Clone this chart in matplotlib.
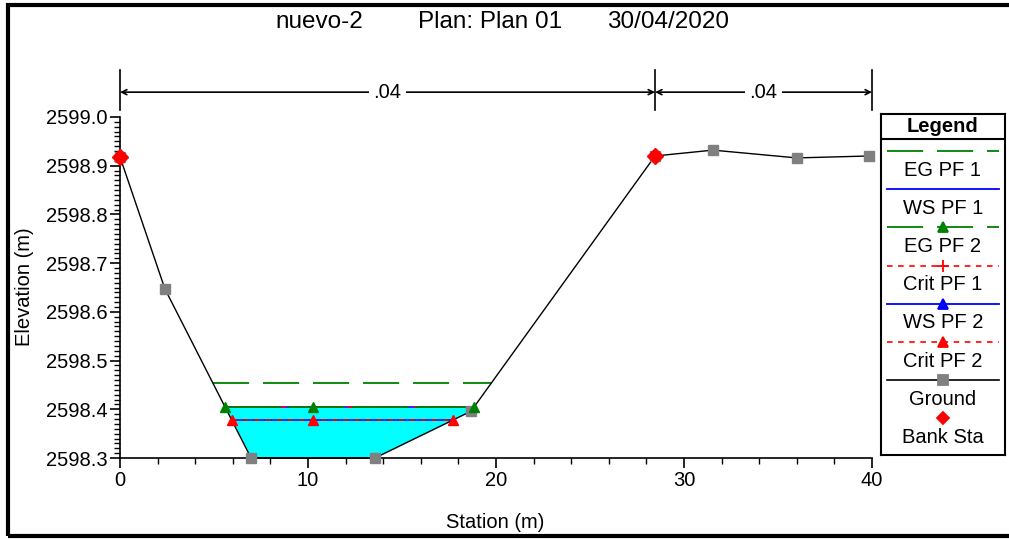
#!/usr/bin/env python3
"""
HEC-RAS style cross section plot (nuevo-2, Plan 01).
"""

import matplotlib.pyplot as plt
import numpy as np
from matplotlib.patches import Rectangle
from matplotlib.ticker import MultipleLocator, FormatStrFormatter

plt.rcParams["font.family"] = ["Liberation Sans", "DejaVu Sans"]
plt.rcParams["lines.scale_dashes"] = False

# Ground profile
ground_sta = [0.0, 2.39, 6.97, 13.56, 18.67, 28.46, 31.54, 36.0, 39.85]
ground_elev = [2598.918, 2598.647, 2598.300, 2598.300, 2598.396,
               2598.920, 2598.932, 2598.916, 2598.920]

# Bank stations
bank_sta = [0.0, 28.46]
bank_elev = [2598.918, 2598.920]

# Water surface profiles
eg_pf1 = 2598.454
ws_pf1 = 2598.404
eg_pf2 = 2598.404
crit_pf1 = 2598.404
ws_pf2 = 2598.378
crit_pf2 = 2598.378
mid_marker_sta = 10.27

# Manning n values and their limits
n_values = [".04", ".04"]
n_breaks = [0.0, 28.46, 40.0]

title_parts = ["nuevo-2", "Plan: Plan 01", "30/04/2020"]
legend_labels = ["EG PF 1", "WS PF 1", "EG PF 2", "Crit PF 1",
                 "WS PF 2", "Crit PF 2", "Ground", "Bank Sta"]

GREEN = "#008000"
BLUE = "#0000ff"
RED = "#ff0000"
GREY = "#808080"
CYAN = "#00ffff"
FS = 14.5


def wet_limits(sta, elev, level):
    """Left and right stations where the water level meets the ground."""
    sta = np.asarray(sta)
    elev = np.asarray(elev)
    i_low = int(np.argmin(elev))
    left = right = None
    for i in range(i_low, 0, -1):
        if elev[i - 1] >= level >= elev[i]:
            left = np.interp(level, [elev[i], elev[i - 1]], [sta[i], sta[i - 1]])
            break
    for i in range(i_low, len(sta) - 1):
        if elev[i] <= level <= elev[i + 1]:
            right = np.interp(level, [elev[i], elev[i + 1]], [sta[i], sta[i + 1]])
            break
    return left, right


fig = plt.figure(figsize=(10.09, 5.39), dpi=100)
ax = fig.add_axes([120 / 1009, 81 / 539, 752 / 1009, 341 / 539])

# Water fill
gs = np.asarray(ground_sta)
ge = np.asarray(ground_elev)
ax.fill_between(gs, ge, ws_pf1, where=ge <= ws_pf1, interpolate=True,
                color=CYAN, lw=0, zorder=1)

# EG PF 1
l, r = wet_limits(ground_sta, ground_elev, eg_pf1)
ax.plot([l, r], [eg_pf1, eg_pf1], color=GREEN, lw=1.3, dashes=(26, 10), zorder=3)

# WS PF 1 / Crit PF 1 / EG PF 2
l, r = wet_limits(ground_sta, ground_elev, ws_pf1)
ax.plot([l, r], [ws_pf1, ws_pf1], color=BLUE, lw=1.2, zorder=3)
ax.plot([l, r], [crit_pf1, crit_pf1], color=RED, lw=1.2, dashes=(4, 4), zorder=3)
ax.plot([l, r], [eg_pf2, eg_pf2], color=GREEN, lw=1.3, dashes=(40, 6), zorder=3)
ax.plot([l, mid_marker_sta, r], [eg_pf2] * 3, ls="none", marker="^",
        color=GREEN, ms=7, zorder=5)

# WS PF 2 / Crit PF 2
l, r = wet_limits(ground_sta, ground_elev, ws_pf2)
ax.plot([l, r], [ws_pf2, ws_pf2], color=BLUE, lw=1.2, zorder=3)
ax.plot([l, r], [crit_pf2, crit_pf2], color=RED, lw=1.2, dashes=(4, 4), zorder=3)
ax.plot([l, mid_marker_sta, r], [crit_pf2] * 3, ls="none", marker="^",
        color=RED, ms=7, zorder=5)

# Ground and bank stations
ax.plot(ground_sta, ground_elev, color="black", lw=1.0, marker="s", ms=7,
        mfc=GREY, mec=GREY, zorder=4, clip_on=False)
ax.plot(bank_sta, bank_elev, ls="none", marker="D", ms=8.5, color=RED,
        zorder=6, clip_on=False)

# Manning n dimension lines above the plot
for x in n_breaks:
    ax.plot([x, x], [2599.014, 2599.097], color="black", lw=1.2, clip_on=False)
for i, n in enumerate(n_values):
    x0, x1 = n_breaks[i], n_breaks[i + 1]
    ax.annotate("", xy=(x0, 2599.051), xytext=(x1, 2599.051),
                arrowprops=dict(arrowstyle="<->", lw=1.2, color="black",
                                shrinkA=0, shrinkB=0, mutation_scale=9),
                annotation_clip=False)
    ax.text((x0 + x1) / 2, 2599.051, n, ha="center", va="center", fontsize=FS,
            bbox=dict(facecolor="white", edgecolor="none", pad=3), clip_on=False)

ax.set_xlim(0, 40)
ax.set_ylim(2598.3, 2599.0)
ax.xaxis.set_major_locator(MultipleLocator(10))
ax.xaxis.set_minor_locator(MultipleLocator(2))
ax.yaxis.set_major_locator(MultipleLocator(0.1))
ax.yaxis.set_minor_locator(MultipleLocator(0.01))
ax.yaxis.set_major_formatter(FormatStrFormatter("%.1f"))
ax.tick_params(which="major", direction="out", length=7, width=1.2,
               labelsize=FS, pad=2)
ax.tick_params(which="minor", direction="out", length=4, width=1.0)
ax.spines["top"].set_visible(False)
ax.spines["right"].set_visible(False)
ax.spines["left"].set_linewidth(1.2)
ax.spines["bottom"].set_linewidth(1.2)

# Axis labels
fig.text(495 / 1009, 1 - 522 / 539, "Station (m)", ha="center", va="center",
         fontsize=FS)
fig.text(25 / 1009, 1 - 287 / 539, "Elevation (m)", ha="center", va="center",
         rotation=90, fontsize=FS)

# Title
for txt, x in zip(title_parts, [275, 418, 607]):
    fig.text(x / 1009, 1 - 22 / 539, txt, ha="left", va="center", fontsize=17.5)

# Legend box
lax = fig.add_axes([881 / 1009, 84 / 539, 124 / 1009, 341 / 539])
lax.set_xlim(881, 1005)
lax.set_ylim(455, 114)
lax.set_xticks([])
lax.set_yticks([])
for s in lax.spines.values():
    s.set_linewidth(1.5)
lax.text(943, 127, "Legend", ha="center", va="center", fontsize=FS,
         fontweight="bold")
lax.axhline(139, color="black", lw=1.5)

xs = [887, 999]
xm = [943]
samples = [
    dict(color=GREEN, lw=1.3, dashes=(26, 10)),
    dict(color=BLUE, lw=1.3),
    dict(color=GREEN, lw=1.3, dashes=(26, 10), marker="^"),
    dict(color=RED, lw=1.2, dashes=(4, 4), marker="+"),
    dict(color=BLUE, lw=1.3, marker="^"),
    dict(color=RED, lw=1.2, dashes=(4, 4), marker="^"),
    dict(color="black", lw=1.2, marker="s", mfc=GREY, mec=GREY),
    dict(color=RED, marker="D"),
]
for i, (lab, st) in enumerate(zip(legend_labels, samples)):
    y_line = 151 + i * 38.2
    st = dict(st)
    marker = st.pop("marker", None)
    mfc = st.pop("mfc", st.get("color"))
    mec = st.pop("mec", st.get("color"))
    if lab != "Bank Sta":
        lax.plot(xs, [y_line, y_line], **st)
    if marker:
        lax.plot(xm, [y_line], ls="none", marker=marker, ms=6.5 if marker != "+" else 8,
                 mfc=mfc, mec=mec, mew=1.3)
    lax.text(943, y_line + 19, lab, ha="center", va="center", fontsize=FS)

# Outer frame
fig.patches.append(Rectangle((7.5 / 1009, 3.5 / 539), 1.2, 531 / 539,
                             transform=fig.transFigure, fill=False,
                             edgecolor="black", lw=3, clip_on=False))

plt.savefig("out.png", dpi=100)
plt.close()
